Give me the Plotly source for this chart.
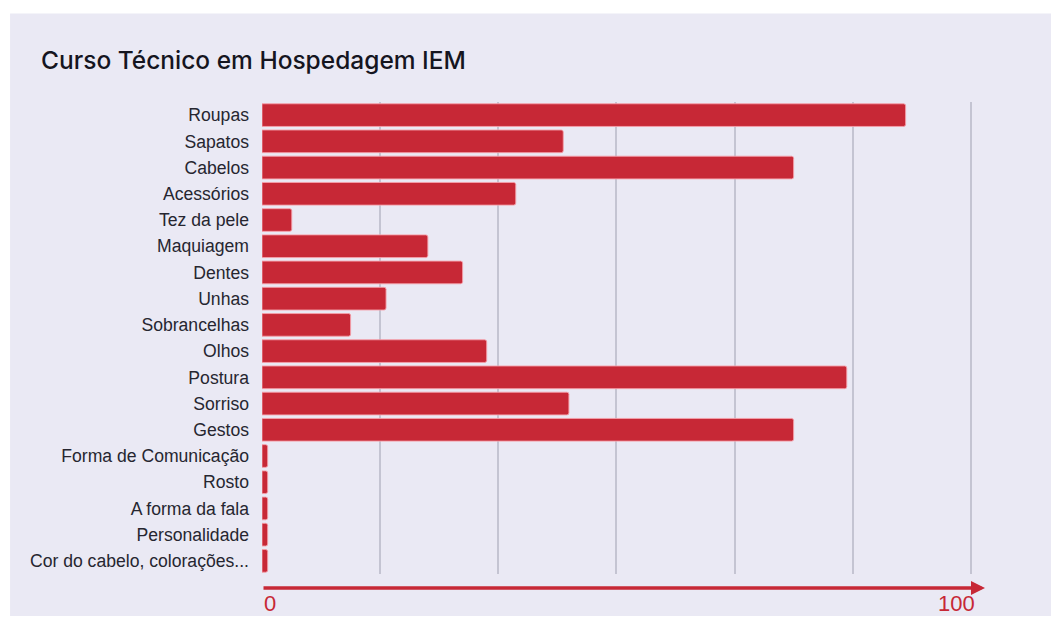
import plotly.graph_objects as go

# Survey categories (top to bottom) and their scores on a 0-100 scale
categories = [
    "Roupas", "Sapatos", "Cabelos", "Acessórios", "Tez da pele", "Maquiagem",
    "Dentes", "Unhas", "Sobrancelhas", "Olhos", "Postura", "Sorriso", "Gestos",
    "Forma de Comunicação", "Rosto", "A forma da fala", "Personalidade",
    "Cor do cabelo, colorações...",
]
values = [
    90.8, 42.5, 75.0, 35.8, 4.2, 23.4,
    28.3, 17.5, 12.5, 31.7, 82.5, 43.3, 75.0,
    0.8, 0.8, 0.8, 0.8,
    0.8,
]
grid_ticks = [0, 100 / 6, 200 / 6, 300 / 6, 400 / 6, 500 / 6, 100]
axis_min_label = "0"
axis_max_label = "100"
title_text = "Curso Técnico em Hospedagem IEM"

RED = "#C72836"
PANEL = "#EAE9F4"
W, H = 1051, 619
X_MAX = 102.0
L, T, B = 262, 101.6, 45
plot_w = 709 * X_MAX / 100
R = W - L - plot_w
plot_h = H - T - B


def px_x(p):
    return (p - L) / plot_w


def px_y(p):
    return (H - B - p) / plot_h


fig = go.Figure(
    go.Bar(
        x=values,
        y=categories,
        orientation="h",
        marker=dict(color=RED, line=dict(color="rgba(245,160,170,0.9)", width=1), cornerradius=2),
        hoverinfo="x+y",
    )
)

fig.update_layout(
    width=W,
    height=H,
    margin=dict(l=L, r=R, t=T, b=B),
    paper_bgcolor="white",
    plot_bgcolor="rgba(0,0,0,0)",
    bargap=0.135,
    showlegend=False,
    font=dict(family="Liberation Sans, Arial, sans-serif", color="#262630"),
    xaxis=dict(
        range=[0, X_MAX],
        tickvals=grid_ticks,
        showticklabels=False,
        showgrid=True,
        gridcolor="#C4C4D2",
        gridwidth=1.5,
        zeroline=False,
        showline=False,
        fixedrange=True,
    ),
    yaxis=dict(
        autorange="reversed",
        showgrid=False,
        zeroline=False,
        showline=False,
        ticks="",
        ticklabelstandoff=12,
        tickfont=dict(size=17.6, color="#262630"),
        fixedrange=True,
    ),
    shapes=[
        dict(
            type="rect", xref="paper", yref="paper", layer="below",
            x0=px_x(10), x1=px_x(W + 5), y0=px_y(616), y1=px_y(13),
            fillcolor=PANEL, line=dict(width=0),
        )
    ],
    annotations=[
        dict(
            text=title_text, xref="paper", yref="paper",
            x=px_x(39), y=px_y(60), xanchor="left", yanchor="middle",
            showarrow=False,
            font=dict(family="Inter, Open Sans, sans-serif", size=24.5, color="#15151f", weight=500),
        ),
        # axis arrow under the bars
        dict(
            text="", xref="x", yref="y domain", axref="x", ayref="y domain",
            x=X_MAX, y=px_y(588), ax=0, ay=px_y(588),
            showarrow=True, arrowhead=2, arrowsize=0.85, arrowwidth=3.3,
            arrowcolor=RED, standoff=0, startstandoff=0,
        ),
        dict(
            text=axis_min_label, xref="x", yref="y domain",
            x=0, y=px_y(604), xanchor="left", yanchor="middle",
            showarrow=False, font=dict(size=22, color=RED),
        ),
        dict(
            text=axis_max_label, xref="x", yref="y domain",
            x=100, xshift=6, y=px_y(604), xanchor="right", yanchor="middle",
            showarrow=False, font=dict(size=22, color=RED),
        ),
    ],
)

fig.write_html("out.html")
